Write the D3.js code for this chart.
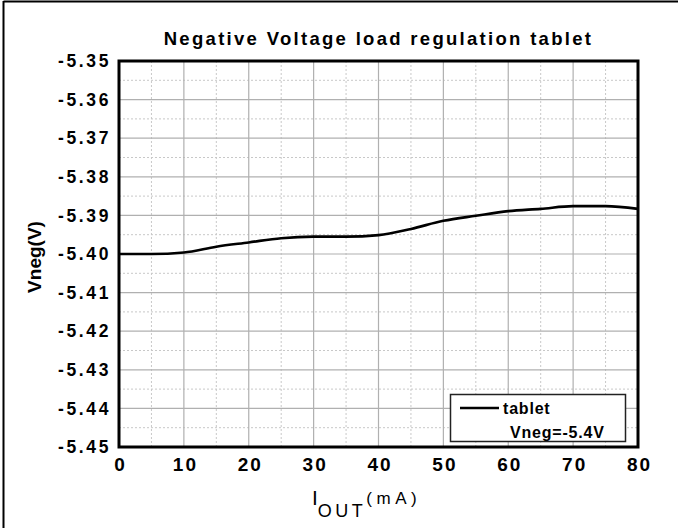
<!DOCTYPE html>
<html><head><meta charset="utf-8">
<script src="https://cdn.jsdelivr.net/npm/d3@7"></script>
<style>
body{margin:0;background:#fff;}
text{font-family:"Liberation Sans",Arial,sans-serif;fill:#000;}
</style></head>
<body><svg id="c" width="678" height="528"></svg>
<script>
const currentMA = [0,5,10,15,20,25,30,35,40,45,50,55,60,65,70,75,80];
const vneg = [-5.4000,-5.4000,-5.3996,-5.3981,-5.3970,-5.3959,-5.3955,-5.3955,-5.3951,-5.3935,-5.3914,-5.3901,-5.3889,-5.3883,-5.3876,-5.3876,-5.3883];
const xTicks = [0,10,20,30,40,50,60,70,80];
const yTicks = [-5.35,-5.36,-5.37,-5.38,-5.39,-5.40,-5.41,-5.42,-5.43,-5.44,-5.45];
const title = "Negative Voltage load regulation tablet";
const seriesName = "tablet";
const legendNote = "Vneg=-5.4V";

const svg = d3.select("#c");
const L=119,R=638,T=61,B=447;
const x = d3.scaleLinear().domain([0,80]).range([L,R]);
const y = d3.scaleLinear().domain([-5.45,-5.35]).range([B,T]);

// outer frame (top + left)
svg.append("line").attr("x1",3.5).attr("x2",678).attr("y1",1.5).attr("y2",1.5).attr("stroke","#000").attr("stroke-width",2);
svg.append("line").attr("x1",3.5).attr("x2",3.5).attr("y1",1).attr("y2",528).attr("stroke","#000").attr("stroke-width",2);

// minor grid
const g = svg.append("g");
d3.range(5,80,10).forEach(v=>g.append("line").attr("x1",x(v)).attr("x2",x(v)).attr("y1",T).attr("y2",B)
  .attr("stroke","#c8c8c8").attr("stroke-dasharray","2,2"));
d3.range(0,10).map(i=>-5.445+i*0.01).forEach(v=>g.append("line").attr("x1",L).attr("x2",R).attr("y1",y(v)).attr("y2",y(v))
  .attr("stroke","#c8c8c8").attr("stroke-dasharray","2,2"));
// major grid
xTicks.forEach(v=>g.append("line").attr("x1",x(v)).attr("x2",x(v)).attr("y1",T).attr("y2",B).attr("stroke","#b0b0b0").attr("stroke-width",1.2));
yTicks.forEach(v=>g.append("line").attr("x1",L).attr("x2",R).attr("y1",y(v)).attr("y2",y(v)).attr("stroke","#b0b0b0").attr("stroke-width",1.2));

// axes (labels only)
const xa = svg.append("g").attr("transform",`translate(0,${B})`)
  .call(d3.axisBottom(x).tickValues(xTicks).tickSize(0).tickPadding(10).tickFormat(d=>String(d)));
xa.select(".domain").remove();
xa.selectAll("text").attr("font-size",19).attr("font-weight","bold").attr("letter-spacing","2px")
  .attr("font-family","Liberation Sans, Arial, sans-serif").attr("dy","0.75em").attr("dx","1px");
const ya = svg.append("g").attr("transform",`translate(${L},0)`)
  .call(d3.axisLeft(y).tickValues(yTicks).tickSize(0).tickPadding(8).tickFormat(d=>d.toFixed(2)));
ya.select(".domain").remove();
ya.selectAll("text").attr("font-size",17.5).attr("font-weight","bold").attr("letter-spacing","2.6px")
  .attr("font-family","Liberation Sans, Arial, sans-serif");

// data line
const line = d3.line().x((d,i)=>x(currentMA[i])).y(d=>y(d)).curve(d3.curveMonotoneX);
svg.append("path").datum(vneg).attr("d",line).attr("fill","none").attr("stroke","#000").attr("stroke-width",2.6);

// plot frame
svg.append("rect").attr("x",L).attr("y",T).attr("width",R-L).attr("height",B-T).attr("fill","none").attr("stroke","#000").attr("stroke-width",3);

// title
svg.append("text").attr("x",(L+R)/2).attr("y",45).attr("text-anchor","middle").attr("font-size",18.5).attr("font-weight","bold")
  .attr("letter-spacing","2.3px").text(title);

// y label
svg.append("text").attr("transform","translate(41,257) rotate(-90)").attr("text-anchor","middle")
  .attr("font-size",19).attr("font-weight","bold").text("Vneg(V)");

// x label
const xl = svg.append("text").attr("x",312).attr("y",505).attr("font-size",21);
xl.append("tspan").text("I");
xl.append("tspan").attr("dy",12).attr("font-size",18).attr("letter-spacing","3.5px").text("OUT");
xl.append("tspan").attr("dy",-13).attr("font-size",17).attr("letter-spacing","4.5px").text("(mA)");

// legend
const lg = svg.append("g");
lg.append("rect").attr("x",450.5).attr("y",394.5).attr("width",175).attr("height",47).attr("fill","#fff").attr("stroke","#222").attr("stroke-width",1.5);
lg.append("line").attr("x1",460).attr("x2",499).attr("y1",408).attr("y2",408).attr("stroke","#000").attr("stroke-width",2.6);
lg.append("text").attr("x",503).attr("y",414).attr("font-size",16).attr("font-weight","bold").attr("letter-spacing","0.8px").text(seriesName);
lg.append("text").attr("x",510).attr("y",438).attr("font-size",16).attr("font-weight","bold").attr("letter-spacing","0.8px").text(legendNote);
</script></body></html>
